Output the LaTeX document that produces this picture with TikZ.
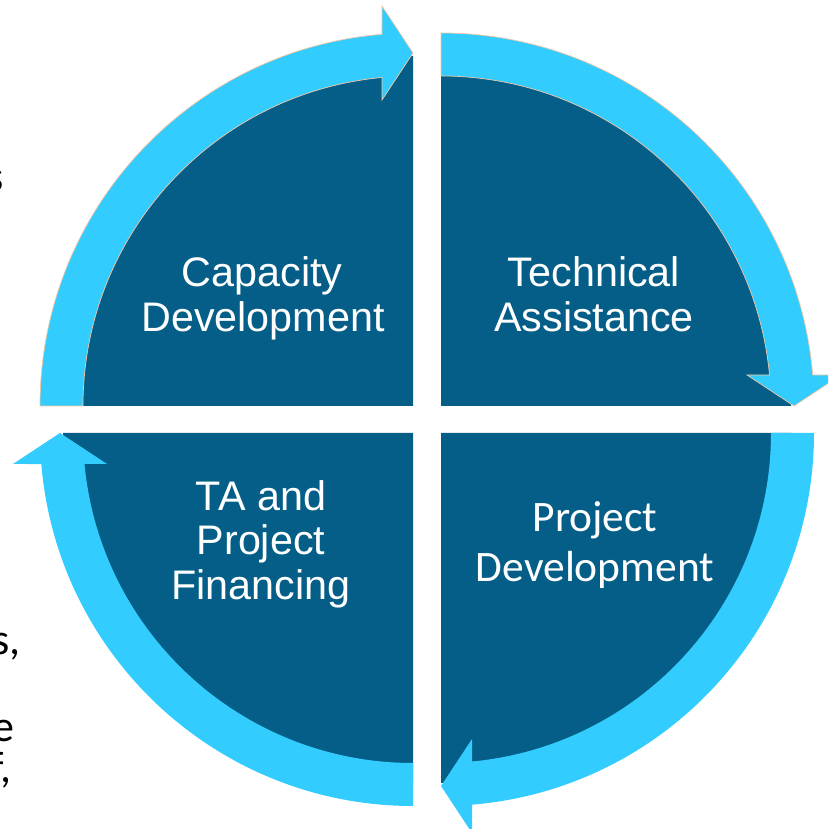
\documentclass[tikz,border=0pt]{standalone}
\usepackage{fontspec}
\newfontfamily\armfont{Liberation Sans}
\newfontfamily\calfont{Carlito}
\definecolor{piefill}{RGB}{4,94,136}
\definecolor{bandfill}{RGB}{51,204,255}
\definecolor{rim}{RGB}{244,198,164}

% one quarter: dark pie wedge plus the curved arrow around it,
% drawn for the upper-left quarter and rotated for the others
\newcommand\quarterpie{%
  \fill[pie] (0,0) -- (-350pt,0) arc[start angle=180,end angle=90,radius=350pt] -- cycle;}
\newcommand\quarterarrow[1]{%
  \path[band,#1] (-373pt,0) arc[start angle=180,end angle=94.77,radius=373pt]
    -- (-31pt,400pt) -- (0pt,353pt) -- (-31pt,306pt)
    -- (95.39:330pt) arc[start angle=95.39,end angle=180,radius=330pt] -- cycle;}

\begin{document}
\begin{tikzpicture}[x=1pt,y=1pt,
  pie/.style={fill=piefill},
  band/.style={fill=bandfill},
  rimmed/.style={draw=rim,line width=0.7pt},
  plain/.style={},
  lbl/.style={text=white,font=\armfont\fontsize{41.3}{41.3}\selectfont,anchor=base,inner sep=0pt},
  lblc/.style={text=white,font=\calfont\fontsize{43.5}{43.5}\selectfont,anchor=base,inner sep=0pt},
  side/.style={text=black,font=\calfont\fontsize{44}{44}\selectfont,anchor=base east,inner sep=0pt}]
\useasboundingbox (0,0) rectangle (828,829);
\clip (0,0) rectangle (828,829);

% upper left
\begin{scope}[shift={(413,423)}]
  \quarterpie
  \quarterarrow{rimmed}
\end{scope}
% upper right
\begin{scope}[shift={(441,423)},rotate=-90]
  \quarterpie
  \quarterarrow{rimmed}
\end{scope}
% lower right
\begin{scope}[shift={(441,396)},rotate=-180]
  \quarterpie
  \quarterarrow{plain}
\end{scope}
% lower left
\begin{scope}[shift={(413,396)},rotate=-270]
  \quarterpie
  \quarterarrow{plain}
\end{scope}

% quarter labels
\node[lbl] (cd1) at (262,542) {Capacity};
\node[lbl] (cd2) at (263,497) {Development};
\node[lbl] (ta1) at (594,542) {Technical};
\node[lbl] (ta2) at (594,497) {Assistance};
\node[lbl] (pf1) at (261,318) {TA and};
\node[lbl] (pf2) at (261,274) {Project};
\node[lbl] (pf3) at (261,229) {Financing};
\node[lblc] (pd1) at (595,297) {Project};
\node[lblc] (pd2) at (595,247) {Development};

% word endings of the neighbouring text column
\node[side] (w1) at (3.5,637) {s};
\node[side] (w2) at (20.5,174) {s,};
\node[side] (w3) at (15,87) {e};
\node[side] (w4) at (12,46) {f,};
\end{tikzpicture}
\end{document}
